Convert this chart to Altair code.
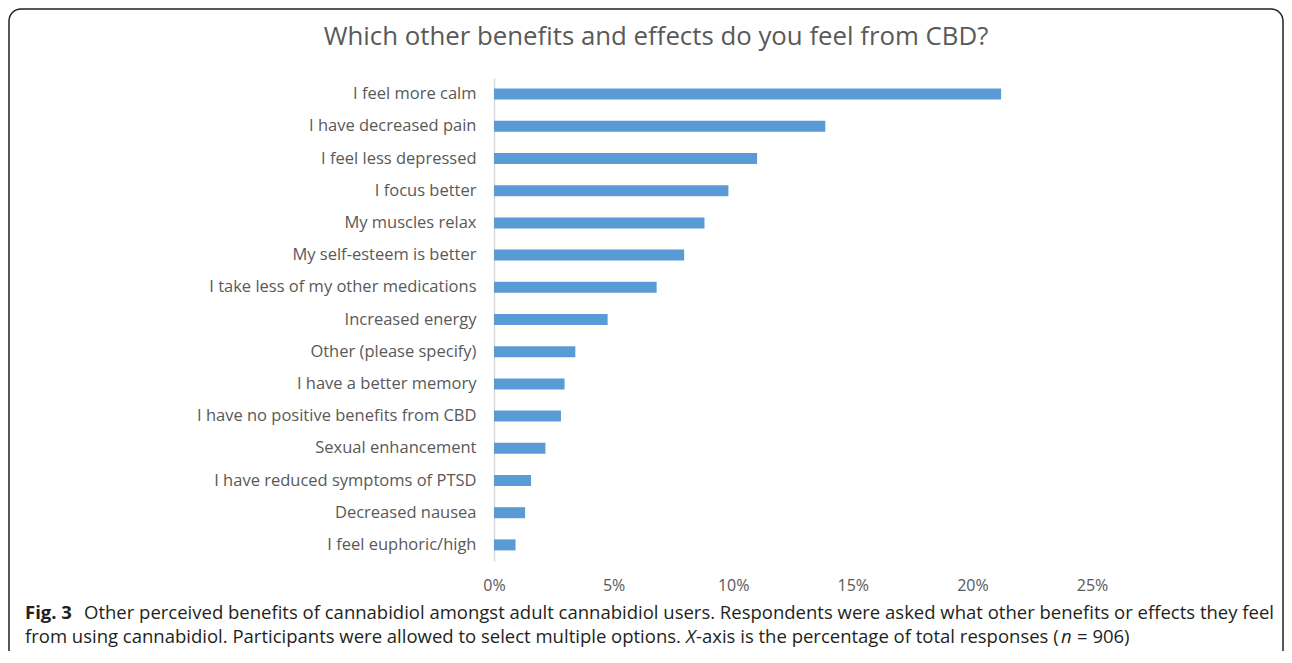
import altair as alt
import pandas as pd

# ---- data ----
categories = [
    "I feel more calm",
    "I have decreased pain",
    "I feel less depressed",
    "I focus better",
    "My muscles relax",
    "My self-esteem is better",
    "I take less of my other medications",
    "Increased energy",
    "Other (please specify)",
    "I have a better memory",
    "I have no positive benefits from CBD",
    "Sexual enhancement",
    "I have reduced symptoms of PTSD",
    "Decreased nausea",
    "I feel euphoric/high",
]
percent_values = [21.2, 13.85, 11.0, 9.8, 8.8, 7.95, 6.8, 4.75, 3.4, 2.95, 2.8, 2.15, 1.55, 1.3, 0.9]
x_ticks = [0, 5, 10, 15, 20, 25]

chart_title = "Which other benefits and effects do you feel from CBD?"
cap1_bold = "Fig. 3"
cap1_rest = ("Other perceived benefits of cannabidiol amongst adult cannabidiol users. "
             "Respondents were asked what other benefits or effects they feel")
cap2_a = "from using cannabidiol. Participants were allowed to select multiple options."
cap2_x = "X"
cap2_b = "-axis is the percentage of total responses ("
cap2_n = "n"
cap2_c = "= 906)"

df = pd.DataFrame({"label": categories, "pct": percent_values})

W, H = 598, 483
PAD_L, PAD_T = 486, 70
SVG_W, SVG_H = 1276, 643
FONT = "Open Sans"
GRAY = "#595959"
INK = "#231f20"

one = pd.DataFrame({"k": [0]})

bars = alt.Chart(df).mark_bar(size=11, color="#5b9bd5").encode(
    x=alt.X(
        "pct:Q",
        scale=alt.Scale(domain=[0, 25], nice=False, zero=True),
        axis=alt.Axis(
            values=x_ticks, labelExpr="datum.value + '%'", title=None, grid=False,
            domain=False, ticks=False, labelPadding=16, labelFont=FONT,
            labelFontSize=16, labelColor=GRAY, labelFlush=False,
        ),
    ),
    y=alt.Y(
        "label:N", sort=categories,
        scale=alt.Scale(paddingInner=0, paddingOuter=0),
        axis=alt.Axis(
            title=None, domainColor="#d9d9d9", domainWidth=1.5, ticks=False,
            labelPadding=18, labelFont=FONT, labelFontSize=16.5, labelColor=GRAY,
            labelLimit=500,
        ),
    ),
)

border = alt.Chart(one).mark_rect(
    cornerRadius=12, fillOpacity=0, stroke=INK, strokeWidth=1.5
).encode(
    x=alt.value(9 - 494), x2=alt.value(1283 - 494),
    y=alt.value(9 - 78), y2=alt.value(700 - 78),
)


def txt(s, px, py, size, color, weight="normal", style="normal", align="left"):
    return alt.Chart(one).mark_text(
        text=s, font=FONT, fontSize=size, color=color, fontWeight=weight,
        fontStyle=style, align=align, baseline="middle",
    ).encode(x=alt.value(px - 494), y=alt.value(py - 78))


CS = 18.5
title = txt(chart_title, 656, 37, 25.8, GRAY, align="center")
L1, L2 = 613, 637
c1 = txt(cap1_bold, 25, L1, CS, INK, weight="bold")
c2 = txt(cap1_rest, 84, L1, CS, INK)
c3 = txt(cap2_a, 25, L2, CS, INK)
c4 = txt(cap2_x, 686, L2, CS, INK, style="italic")
c5 = txt(cap2_b, 696, L2, CS, INK)
c6 = txt(cap2_n, 1061, L2, CS, INK, style="italic")
c7 = txt(cap2_c, 1077, L2, CS, INK)

chart = alt.layer(bars, border, title, c1, c2, c3, c4, c5, c6, c7).properties(
    width=W, height=H,
    autosize=alt.AutoSizeParams(type="none"),
    padding={"left": PAD_L, "top": PAD_T, "right": SVG_W - PAD_L - W, "bottom": SVG_H - PAD_T - H},
).configure_view(stroke=None)

chart.save("out.html", embed_options={"renderer": "svg", "actions": False})
